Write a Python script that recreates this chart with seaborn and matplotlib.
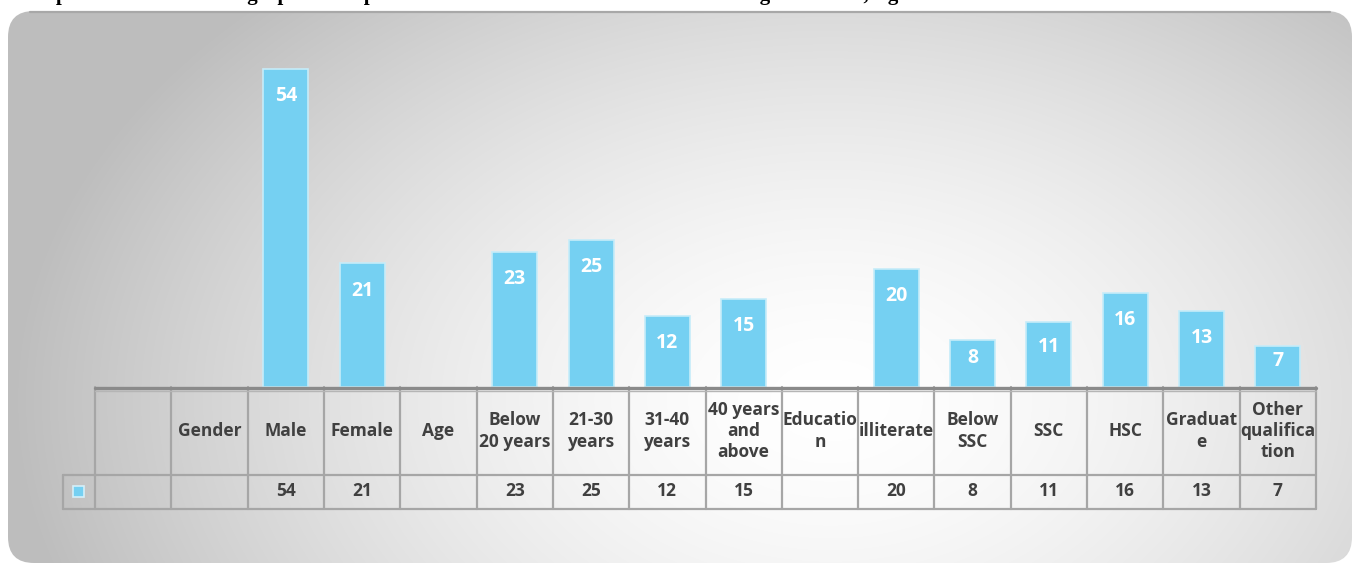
import numpy as np
import pandas as pd
import matplotlib
matplotlib.use("Agg")
import matplotlib.pyplot as plt
from matplotlib.patches import FancyBboxPatch, Rectangle
import seaborn as sns

# chart data
categories = ["", "Gender", "Male", "Female", "Age", "Below 20 years", "21-30 years",
              "31-40 years", "40 years and above", "Education", "illiterate",
              "Below SSC", "SSC", "HSC", "Graduate", "Other qualification"]
header_labels = ["", "Gender", "Male", "Female", "Age", "Below\n20 years", "21-30\nyears",
                 "31-40\nyears", "40 years\nand\nabove", "Educatio\nn", "illiterate",
                 "Below\nSSC", "SSC", "HSC", "Graduat\ne", "Other\nqualifica\ntion"]
bar_categories = ["Male", "Female", "Below 20 years", "21-30 years", "31-40 years",
                  "40 years and above", "illiterate", "Below SSC", "SSC", "HSC",
                  "Graduate", "Other qualification"]
counts = [54, 21, 23, 25, 12, 15, 20, 8, 11, 16, 13, 7]
title_text = "Graph 1 Shows the Demographic Composition of the Selected Households according to Gender, Age and Education"

sns.set_style("white")
plt.rcParams['font.family'] = ['Open Sans', 'DejaVu Sans']

W, H = 1360, 565
fig = plt.figure(figsize=(W / 100, H / 100), dpi=100)
fig.patch.set_facecolor('white')

# background panel with radial gradient
bg = fig.add_axes([0, 0, 1, 1], zorder=-5)
bg.set_xlim(0, W)
bg.set_ylim(H, 0)
bg.axis('off')
xx, yy = np.meshgrid(np.arange(W), np.arange(H))
r = np.sqrt(((xx - 830) / 820) ** 2 + ((yy - 400) / 560) ** 2)
shade = 255 - 66 * np.clip(r, 0, 1) ** 1.6
img = np.dstack([shade, shade, shade]) / 255.0
frame = FancyBboxPatch((8, 11), W - 16, H - 13, boxstyle="round,pad=0,rounding_size=26",
                       facecolor='none', edgecolor='none', transform=bg.transData)
im = bg.imshow(img, extent=(0, W, H, 0), aspect='auto')
bg.add_patch(frame)
im.set_clip_path(frame)
bg.plot([30, W - 30], [11.5, 11.5], color='#a8a8a8', lw=1.6)

# caption above the panel, only its lowest part fits in the picture
fig.text(20 / W, 1 - 5 / H, title_text, fontsize=15, fontweight='bold',
         family='Liberation Serif', ha='left', va='bottom', color='black')

# bar axes
x0, x1 = 95, 1316
y_axis, y_top = 387, 34
ax = fig.add_axes([x0 / W, 1 - y_axis / H, (x1 - x0) / W, (y_axis - y_top) / H])
ax.patch.set_alpha(0)

df = pd.DataFrame({"category": bar_categories, "count": counts})
bar_color = '#75d0f2'
sns.barplot(data=df, x="category", y="count", order=categories, color=bar_color,
            width=0.59, saturation=1, edgecolor='#c6ecf9', linewidth=1.2, ax=ax)
ax.set_xlim(-0.5, len(categories) - 0.5)
ax.set_ylim(0, 60)
ax.set_xticks([])
ax.set_yticks([])
ax.set_xlabel('')
ax.set_ylabel('')
for s in ax.spines.values():
    s.set_visible(False)

# value labels inside bar tops
for cat, v in zip(bar_categories, counts):
    i = categories.index(cat)
    ax.text(i, v - min(4.6, v * 0.38), str(v), ha='center', va='center',
            color='white', fontsize=14, fontweight='bold')

# data table below
tr = ax.get_xaxis_transform()
px = (y_axis - y_top)
def ay(y):
    return (y_axis - y) / px

grid_col = '#a6a6a6'
n = len(categories)
y_mid, y_bot = ay(475), ay(509)
x_leg = -0.5 - 32 / 76.3
for k in range(n + 1):
    ax.plot([k - 0.5, k - 0.5], [0, y_bot], color=grid_col, lw=1.6, transform=tr, clip_on=False)
ax.plot([x_leg, x_leg], [y_mid, y_bot], color=grid_col, lw=1.6, transform=tr, clip_on=False)
ax.plot([x_leg, n - 0.5], [y_mid, y_mid], color=grid_col, lw=1.6, transform=tr, clip_on=False)
ax.plot([x_leg, n - 0.5], [y_bot, y_bot], color=grid_col, lw=1.6, transform=tr, clip_on=False)
ax.plot([-0.5, n - 0.5], [ay(387.5), ay(387.5)], color='#8a8a8a', lw=2.4, transform=tr, clip_on=False)
ax.plot([-0.5, n - 0.5], [ay(390.5), ay(390.5)], color='#b5b5b5', lw=1.0, transform=tr, clip_on=False)

value_map = dict(zip(bar_categories, counts))
for i, (cat, lab) in enumerate(zip(categories, header_labels)):
    ax.text(i, ay(431), lab, transform=tr, ha='center', va='center', fontsize=12.5,
            fontweight='bold', color='#404040', linespacing=1.22, clip_on=False)
    if cat in value_map:
        ax.text(i, ay(491), str(value_map[cat]), transform=tr, ha='center', va='center',
                fontsize=12.5, fontweight='bold', color='#404040', clip_on=False)

# legend key in table
key_x = x_leg + (-0.5 - x_leg) / 2
ax.add_patch(Rectangle((key_x - 5.5 / 76.3, ay(496.5)), 11 / 76.3, 11 / px,
                       facecolor=bar_color, edgecolor='#d4f0fa', lw=1.2,
                       transform=tr, clip_on=False))

fig.savefig('out.png', dpi=100)
